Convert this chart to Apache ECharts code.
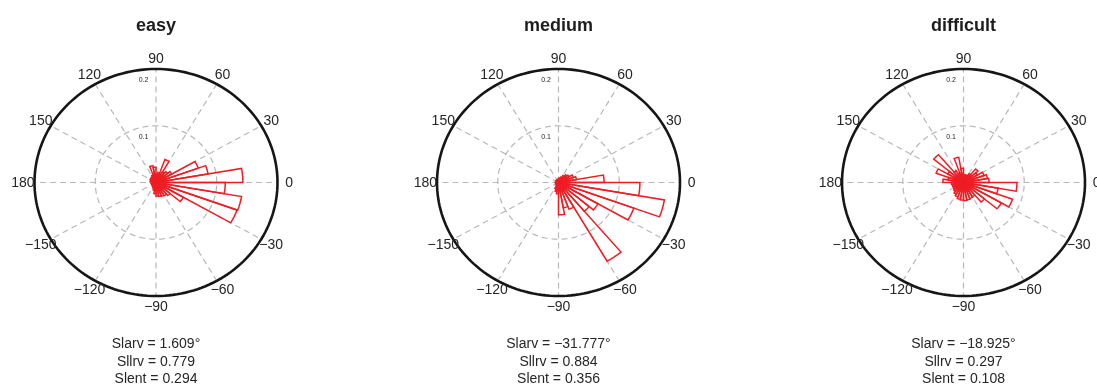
<!DOCTYPE html>
<html>
<head>
<meta charset="utf-8">
<script src="https://cdn.jsdelivr.net/npm/echarts@6/dist/echarts.min.js"></script>
<style>
  html, body { margin: 0; padding: 0; background: #ffffff; }
  #chart { width: 1097px; height: 387px; }
</style>
</head>
<body>
<div id="chart"></div>
<script>
// Panel names
const PANELS = ['easy', 'medium', 'difficult'];

// Start angle (degrees) of each 10-degree histogram bin
const BIN_STARTS = [-180, -170, -160, -150, -140, -130, -120, -110, -100, -90, -80, -70,
                    -60, -50, -40, -30, -20, -10, 0, 10, 20, 30, 40, 50,
                    60, 70, 80, 90, 100, 110, 120, 130, 140, 150, 160, 170];
const BIN_WIDTH = 10;

// Relative frequency per bin
const EASY = [0.008, 0.007, 0.008, 0.007, 0.008, 0.009, 0.011, 0.014, 0.020, 0.024, 0.025, 0.026,
              0.027, 0.030, 0.052, 0.142, 0.143, 0.114, 0.143, 0.087, 0.074, 0.030, 0.025, 0.022,
              0.043, 0.018, 0.015, 0.027, 0.030, 0.014, 0.012, 0.010, 0.011, 0.009, 0.010, 0.008];
const MEDIUM = [0.005, 0.005, 0.004, 0.005, 0.005, 0.006, 0.012, 0.016, 0.020, 0.057, 0.045, 0.050,
                0.160, 0.066, 0.075, 0.132, 0.177, 0.134, 0.075, 0.030, 0.026, 0.020, 0.018, 0.014,
                0.010, 0.008, 0.007, 0.006, 0.005, 0.005, 0.004, 0.005, 0.004, 0.005, 0.005, 0.004];
const DIFFICULT = [0.020, 0.019, 0.018, 0.019, 0.021, 0.024, 0.027, 0.030, 0.031, 0.032, 0.031, 0.030,
                   0.029, 0.045, 0.072, 0.086, 0.058, 0.088, 0.042, 0.040, 0.036, 0.026, 0.031, 0.018,
                   0.014, 0.013, 0.014, 0.025, 0.045, 0.018, 0.024, 0.064, 0.030, 0.048, 0.026, 0.034];

// Polar axis ticks
const THETA_TICKS = [0, 30, 60, 90, 120, 150, 180, 210, 240, 270, 300, 330];
const THETA_LABELS = ['0', '30', '60', '90', '120', '150', '180', '\u2212150', '\u2212120', '\u221290', '\u221260', '\u221230'];
const R_TICKS = [0.1, 0.2];
const R_MAX = 0.2;

// Circular statistics printed under each panel
const SLARV = [1.609, -31.777, -18.925];
const SLLRV = [0.779, 0.884, 0.297];
const SLENT = [0.294, 0.356, 0.108];

const PANEL_VALUES = [EASY, MEDIUM, DIFFICULT];

// Layout (pixels)
const CX = [156, 558.5, 963.5];
const CY = 182.5;
const RX = 121.5;
const RY = 113.5;

const FONT = '"Liberation Sans", Arial, Helvetica, sans-serif';
const GRID_COLOR = '#b8b8b8';
const BAR_COLOR = '#ee1d24';
const TEXT_COLOR = '#262626';
const DEG = Math.PI / 180;

function polarPoint(api, r, deg) {
  return api.coord([r * Math.cos(deg * DEG), r * Math.sin(deg * DEG)]);
}

function renderSpoke(params, api) {
  const a = api.value(0);
  const p0 = api.coord([0, 0]);
  const p1 = polarPoint(api, R_MAX, a);
  return {
    type: 'line',
    shape: { x1: p0[0], y1: p0[1], x2: p1[0], y2: p1[1] },
    style: { stroke: GRID_COLOR, lineWidth: 1.2, lineDash: [6, 4] }
  };
}

function renderRing(params, api) {
  const r = api.value(0);
  const pts = [];
  for (let a = 0; a <= 360; a += 2) pts.push(polarPoint(api, r, a));
  const outer = r >= R_MAX;
  return {
    type: 'polyline',
    shape: { points: pts },
    style: outer
      ? { fill: null, stroke: '#161616', lineWidth: 2.6 }
      : { fill: null, stroke: GRID_COLOR, lineWidth: 1.2, lineDash: [6, 4] }
  };
}

function renderHub(params, api) {
  const p = api.coord([api.value(0), api.value(1)]);
  return {
    type: 'circle',
    shape: { cx: p[0], cy: p[1], r: 3.5 },
    style: { fill: '#a8a8a8', stroke: null }
  };
}

function renderBar(params, api) {
  const a0 = api.value(0);
  const a1 = api.value(1);
  const v = api.value(2);
  const pts = [api.coord([0, 0])];
  for (let k = 0; k <= 4; k++) pts.push(polarPoint(api, v, a0 + (a1 - a0) * k / 4));
  return {
    type: 'polygon',
    shape: { points: pts },
    style: { fill: null, stroke: BAR_COLOR, lineWidth: 1.5, lineJoin: 'miter' }
  };
}

function renderThetaLabel(params, api) {
  const p = polarPoint(api, R_MAX * 1.095, api.value(0));
  return {
    type: 'text',
    x: p[0],
    y: p[1] + 0.5,
    style: {
      text: THETA_LABELS[params.dataIndex],
      font: '14px ' + FONT,
      fill: TEXT_COLOR,
      align: 'center',
      verticalAlign: 'middle'
    }
  };
}

function renderRLabel(params, api) {
  const r = api.value(0);
  const p = api.coord([0, r]);
  return {
    type: 'text',
    x: p[0] - 12.5,
    y: p[1] + 11.5,
    style: {
      text: r.toFixed(1),
      font: '7px ' + FONT,
      fill: TEXT_COLOR,
      align: 'center',
      verticalAlign: 'middle'
    }
  };
}

function fmt(v) {
  return (v < 0 ? '\u2212' : '') + Math.abs(v).toFixed(3);
}

const grids = CX.map(cx => ({ left: cx - RX, top: CY - RY, width: 2 * RX, height: 2 * RY }));
const xAxes = CX.map((_, i) => ({ type: 'value', gridIndex: i, min: -R_MAX, max: R_MAX, show: false }));
const yAxes = CX.map((_, i) => ({ type: 'value', gridIndex: i, min: -R_MAX, max: R_MAX, show: false }));

const series = [];
PANEL_VALUES.forEach((vals, i) => {
  const base = { type: 'custom', xAxisIndex: i, yAxisIndex: i, silent: true, animation: false, clip: false };
  series.push(Object.assign({}, base, { z: 1, data: THETA_TICKS.map(a => [a]), renderItem: renderSpoke }));
  series.push(Object.assign({}, base, { z: 2, data: R_TICKS.map(r => [r]), renderItem: renderRing }));
  series.push(Object.assign({}, base, { z: 2, data: [[0, 0]], renderItem: renderHub }));
  series.push(Object.assign({}, base, {
    z: 3,
    data: BIN_STARTS.map((a, k) => [a, a + BIN_WIDTH, vals[k]]),
    renderItem: renderBar
  }));
  series.push(Object.assign({}, base, { z: 5, data: THETA_TICKS.map(a => [a]), renderItem: renderThetaLabel }));
  series.push(Object.assign({}, base, { z: 5, data: R_TICKS.map(r => [r]), renderItem: renderRLabel }));
});

const graphics = [];
PANELS.forEach((name, i) => {
  graphics.push({
    type: 'text',
    x: CX[i],
    y: 26,
    style: {
      text: name,
      font: 'bold 18px ' + FONT,
      fill: '#1e1e1e',
      align: 'center',
      verticalAlign: 'middle'
    }
  });
  graphics.push({
    type: 'text',
    x: CX[i],
    y: 362,
    style: {
      text: 'Slarv = ' + fmt(SLARV[i]) + '\u00b0\nSllrv = ' + fmt(SLLRV[i]) + '\nSlent = ' + fmt(SLENT[i]),
      font: '14px ' + FONT,
      lineHeight: 17.5,
      fill: TEXT_COLOR,
      align: 'center',
      verticalAlign: 'middle'
    }
  });
});

const chart = echarts.init(document.getElementById('chart'));
chart.setOption({
  animation: false,
  backgroundColor: '#ffffff',
  grid: grids,
  xAxis: xAxes,
  yAxis: yAxes,
  series: series,
  graphic: graphics
});
</script>
</body>
</html>
